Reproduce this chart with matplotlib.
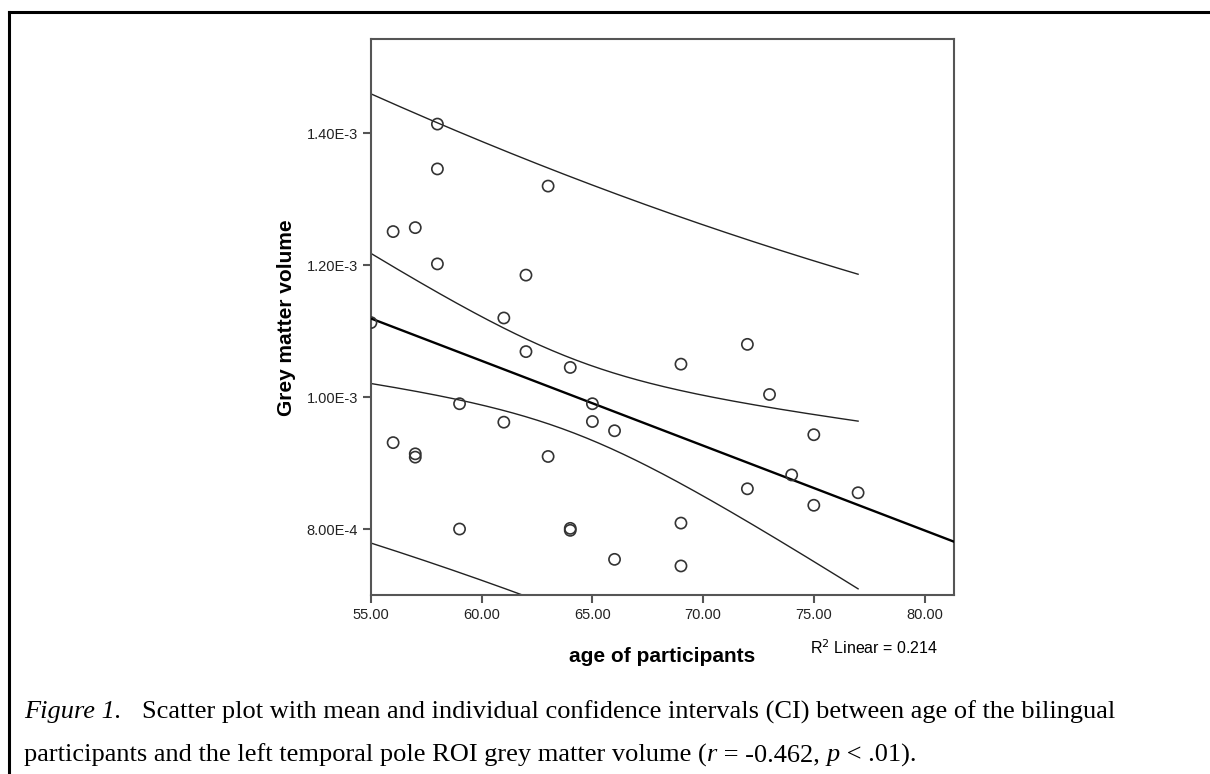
import matplotlib
matplotlib.use("Agg")
import matplotlib.pyplot as plt
import numpy as np
from matplotlib.lines import Line2D

# Data (age, grey matter volume)
age = [58, 58, 63, 56, 57, 58, 62, 55, 61, 62, 64, 65, 59, 61, 65, 66, 56,
       57, 57, 63, 59, 64, 64, 66, 72, 69, 73, 75, 74, 72, 77, 75, 69, 69]
gmv = [1.414e-3, 1.346e-3, 1.320e-3, 1.251e-3, 1.257e-3, 1.202e-3, 1.185e-3,
       1.113e-3, 1.120e-3, 1.069e-3, 1.045e-3, 0.990e-3, 0.990e-3, 0.962e-3,
       0.963e-3, 0.949e-3, 0.931e-3, 0.914e-3, 0.909e-3, 0.910e-3, 0.800e-3,
       0.801e-3, 0.798e-3, 0.754e-3, 1.080e-3, 1.050e-3, 1.004e-3, 0.943e-3,
       0.882e-3, 0.861e-3, 0.855e-3, 0.836e-3, 0.809e-3, 0.744e-3]
x_ticks = [55, 60, 65, 70, 75, 80]
y_ticks = [8.0e-4, 1.0e-3, 1.2e-3, 1.4e-3]
y_tick_labels = ["8.00E-4", "1.00E-3", "1.20E-3", "1.40E-3"]
T_CRIT = 2.037  # t(0.975, df=32)

SANS = "Liberation Sans"
SERIF = "Liberation Serif"
AXCOL = "#555555"

x = np.array(age, dtype=float)
y = np.array(gmv)
n = len(x)
slope, icpt = np.polyfit(x, y, 1)
resid = y - (icpt + slope * x)
s = np.sqrt(np.sum(resid ** 2) / (n - 2))
sxx = np.sum((x - x.mean()) ** 2)
r2 = 1 - np.sum(resid ** 2) / np.sum((y - y.mean()) ** 2)

fig = plt.figure(figsize=(12.1, 7.74), dpi=100)
ax = fig.add_axes([0.3066, 0.2313, 0.4818, 0.7183])

xlim = (55, 81.33)
ylim = (7.0e-4, 1.543e-3)

# fit line over whole axis
xf = np.linspace(xlim[0], xlim[1], 200)
ax.plot(xf, icpt + slope * xf, color="black", lw=1.7, zorder=3)

# mean and individual CIs over the data range
xc = np.linspace(x.min(), x.max(), 200)
yc = icpt + slope * xc
se_mean = s * np.sqrt(1 / n + (xc - x.mean()) ** 2 / sxx)
se_ind = s * np.sqrt(1 + 1 / n + (xc - x.mean()) ** 2 / sxx)
for band in (se_mean, se_ind):
    ax.plot(xc, yc + T_CRIT * band, color="#222222", lw=1.0, zorder=2)
    ax.plot(xc, yc - T_CRIT * band, color="#222222", lw=1.0, zorder=2)

ax.scatter(x, y, s=65, facecolors="none", edgecolors="#333333",
           linewidths=1.2, zorder=4)

ax.set_xlim(*xlim)
ax.set_ylim(*ylim)
ax.set_xticks(x_ticks)
ax.set_xticklabels([f"{v:.2f}" for v in x_ticks])
ax.set_yticks(y_ticks)
ax.set_yticklabels(y_tick_labels)
ax.tick_params(axis="both", direction="out", length=6, width=1.5,
               color=AXCOL, labelsize=10.5, labelcolor="#222222")
for lab in ax.get_xticklabels() + ax.get_yticklabels():
    lab.set_family(SANS)
for sp in ax.spines.values():
    sp.set_color(AXCOL)
    sp.set_linewidth(1.5)

fig.text(662 / 1210, 1 - 656 / 774, "age of participants", family=SANS,
         fontweight="bold", fontsize=15, ha="center", va="center")
fig.text(286 / 1210, 1 - 318 / 774, "Grey matter volume", family=SANS,
         fontweight="bold", fontsize=15, ha="center", va="center",
         rotation=90)
fig.text(810 / 1210, 1 - 648 / 774, f"R$^2$ Linear = {r2:.3f}",
         family=SANS, fontsize=11.5, ha="left", va="center")

# page frame (top and left edges)
fig.add_artist(Line2D([9 / 1210, 1], [1 - 12 / 774] * 2, color="black",
                      lw=2.2, transform=fig.transFigure))
fig.add_artist(Line2D([9 / 1210] * 2, [0, 1 - 12 / 774], color="black",
                      lw=2.2, transform=fig.transFigure))

# caption with italic pieces
fig.canvas.draw()
renderer = fig.canvas.get_renderer()


def run_text(x0, yc, parts, size=19):
    xp = x0
    for txt, style in parts:
        t = fig.text(xp / 1210, 1 - yc / 774, txt, family=SERIF,
                     style=style, fontsize=size, ha="left", va="center")
        xp += t.get_window_extent(renderer).width
    return xp


end = run_text(24, 712, [("Figure 1.", "italic")])
run_text(end + 20, 712, [("Scatter plot with mean and individual confidence "
                          "intervals (CI) between age of the bilingual",
                          "normal")])
run_text(24, 755, [("participants and the left temporal pole ROI grey matter "
                    "volume (", "normal"), ("r", "italic"),
                   (" = -0.462, ", "normal"), ("p", "italic"),
                   (" < .01).", "normal")])

fig.savefig("out.png", dpi=100)
